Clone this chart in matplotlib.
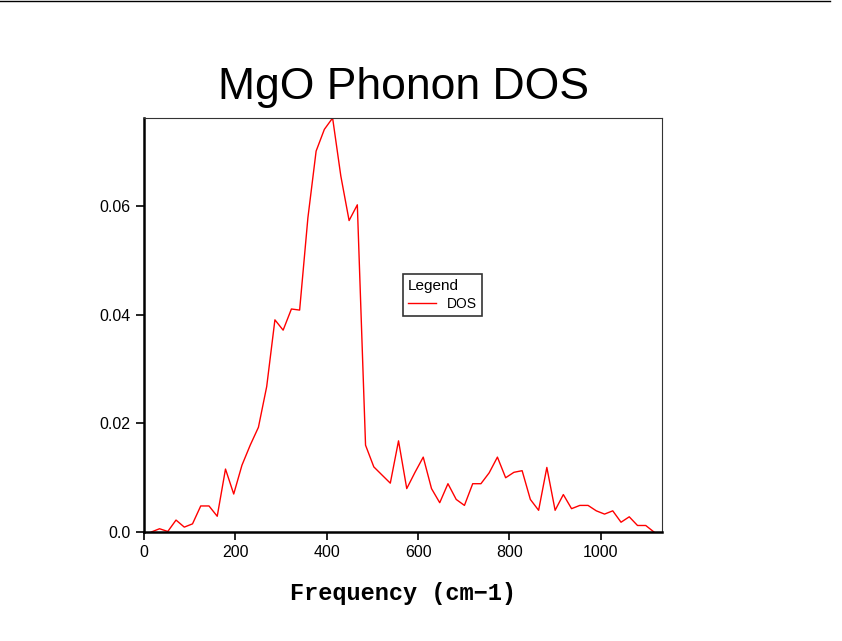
import matplotlib
matplotlib.use("Agg")
import matplotlib.pyplot as plt
from matplotlib.lines import Line2D

plt.rcParams['font.family'] = ['Liberation Sans', 'DejaVu Sans']

freq = [16.0, 34.0, 52.1, 70.1, 88.2, 106.2, 124.2, 142.3, 160.3, 178.4, 196.4, 214.4,
        232.5, 250.5, 268.6, 286.6, 304.6, 322.7, 340.7, 358.8, 376.8, 394.8, 412.9, 430.9,
        449.0, 467.0, 485.0, 503.1, 521.1, 539.2, 557.2, 575.2, 593.3, 611.3, 629.4, 647.4,
        665.4, 683.5, 701.5, 719.6, 737.6, 755.6, 773.7, 791.7, 809.8, 827.8, 845.8, 863.9,
        881.9, 900.0, 918.0, 936.0, 954.1, 972.1, 990.2, 1008.2, 1026.2, 1044.3, 1062.3,
        1080.4, 1098.4, 1116.4]
dos = [0.0, 0.0006, 0.0001, 0.0022, 0.0009, 0.0015, 0.0048, 0.0048, 0.0029, 0.0116, 0.0070,
       0.0123, 0.0160, 0.0193, 0.0268, 0.0391, 0.0372, 0.0411, 0.0409, 0.0579, 0.0702, 0.0742,
       0.0763, 0.0656, 0.0574, 0.0603, 0.0160, 0.0120, 0.0105, 0.0090, 0.0168, 0.0080,
       0.0110, 0.0138, 0.0080, 0.0054, 0.0089, 0.0060, 0.0049, 0.0089, 0.0089, 0.0109,
       0.0138, 0.0100, 0.0110, 0.0113, 0.0060, 0.0040, 0.0119, 0.0040, 0.0069, 0.0043,
       0.0049, 0.0049, 0.0039, 0.0033, 0.0039, 0.0018, 0.0028, 0.0012, 0.0012, 0.0]

fig = plt.figure(figsize=(8.42, 6.41), dpi=100)
ax = fig.add_axes([144/842, 1-532/641, (662-144)/842, (532-118)/641])
ax.plot(freq, dos, color="red", lw=1, label="DOS")
ax.set_xlim(0, 1134)
ax.set_ylim(0, 0.0763)
ax.set_xticks([0, 200, 400, 600, 800, 1000])
ax.set_yticks([0.0, 0.02, 0.04, 0.06])
ax.set_yticklabels(["0.0", "0.02", "0.04", "0.06"])
ax.tick_params(direction="out", length=6, width=1.2, labelsize=11.5, top=False, right=False)
for s in ax.spines.values():
    s.set_color("#333333")
for s in ["left", "bottom"]:
    ax.spines[s].set_linewidth(1.8)
    ax.spines[s].set_color("black")
ax.set_title("MgO Phonon DOS", fontsize=32, pad=14)
ax.set_xlabel("Frequency (cm\u22121)", fontsize=17, family="Liberation Mono",
              fontweight="bold", labelpad=16)
leg = ax.legend(title="Legend", loc="upper left", bbox_to_anchor=((403-144)/518, (532-274)/414),
                fancybox=False, edgecolor="black", fontsize=10, title_fontsize=11,
                handlelength=2, borderaxespad=0, borderpad=0.35, labelspacing=0.3)
leg._legend_box.align = "left"
leg.get_frame().set_linewidth(1.2)
fig.add_artist(Line2D([0, 830/842], [1-1/641, 1-1/641], color="black", lw=1))
fig.savefig("out.png", dpi=100)
